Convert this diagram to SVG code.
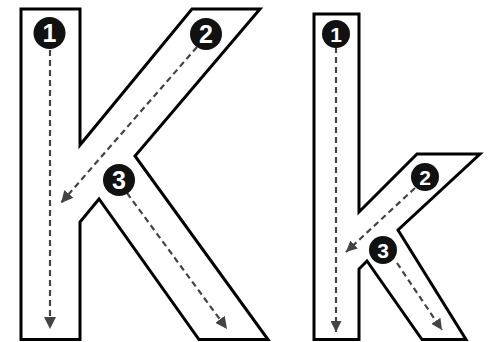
<svg xmlns="http://www.w3.org/2000/svg" width="489" height="342" viewBox="0 0 489 342">
<style>
.letter{fill:#ffffff;stroke:#000000;stroke-width:3;stroke-linejoin:miter}
.path{fill:none;stroke:#444444;stroke-width:2.2;stroke-dasharray:6 4}
.badge{fill:#111111}
.num{fill:#ffffff;font-family:"Liberation Sans",Arial,sans-serif;font-weight:bold;text-anchor:middle}
</style>
<defs>
<marker id="ah" viewBox="0 0 10 10" refX="10" refY="5" markerWidth="12" markerHeight="12" markerUnits="userSpaceOnUse" orient="auto">
<path d="M0,0 L10,5 L0,10 z" fill="#444444"/>
</marker>
<marker id="ahs" viewBox="0 0 10 10" refX="10" refY="5" markerWidth="11" markerHeight="11" markerUnits="userSpaceOnUse" orient="auto">
<path d="M0,0 L10,5 L0,10 z" fill="#444444"/>
</marker>
</defs>
<rect width="489" height="342" fill="#ffffff"/>
<g id="upper-K">
<polygon class="letter" points="21,9 80,9 80,145 192,9 260,9 135,156 268,339.5 199,339.5 99,199 80,222 80,339.5 21,339.5"/>
</g>
<g id="lower-k">
<polygon class="letter" points="314,14 359,14 359,212 417,154 480,154 398,230 466,339.5 422,339.5 367,261 359,269 359,339.5 314,339.5"/>
</g>
<g id="connectors">
<line class="path" x1="50" y1="50" x2="50" y2="329" marker-end="url(#ah)"/>
<line class="path" x1="197" y1="47" x2="61" y2="203" marker-end="url(#ah)"/>
<line class="path" x1="127" y1="193" x2="227" y2="329" marker-end="url(#ah)"/>
<line class="path" x1="336" y1="47" x2="336" y2="332" marker-end="url(#ahs)"/>
<line class="path" x1="415" y1="188" x2="346" y2="252" marker-end="url(#ahs)"/>
<line class="path" x1="397" y1="263" x2="442" y2="330" marker-end="url(#ahs)"/>
</g>
<g id="K-step1"><circle class="badge" cx="49.5" cy="33" r="16"/><text class="num" x="49.5" y="42" font-size="25">1</text></g>
<g id="K-step2"><circle class="badge" cx="206" cy="34" r="16"/><text class="num" x="206" y="43" font-size="25">2</text></g>
<g id="K-step3"><circle class="badge" cx="119" cy="180" r="16"/><text class="num" x="119" y="189" font-size="25">3</text></g>
<g id="k-step1"><circle class="badge" cx="336" cy="34" r="14"/><text class="num" x="336" y="41.5" font-size="21">1</text></g>
<g id="k-step2"><circle class="badge" cx="425" cy="177" r="14"/><text class="num" x="425" y="184.5" font-size="21">2</text></g>
<g id="k-step3"><circle class="badge" cx="383" cy="250" r="14"/><text class="num" x="383" y="257.5" font-size="21">3</text></g>
</svg>
